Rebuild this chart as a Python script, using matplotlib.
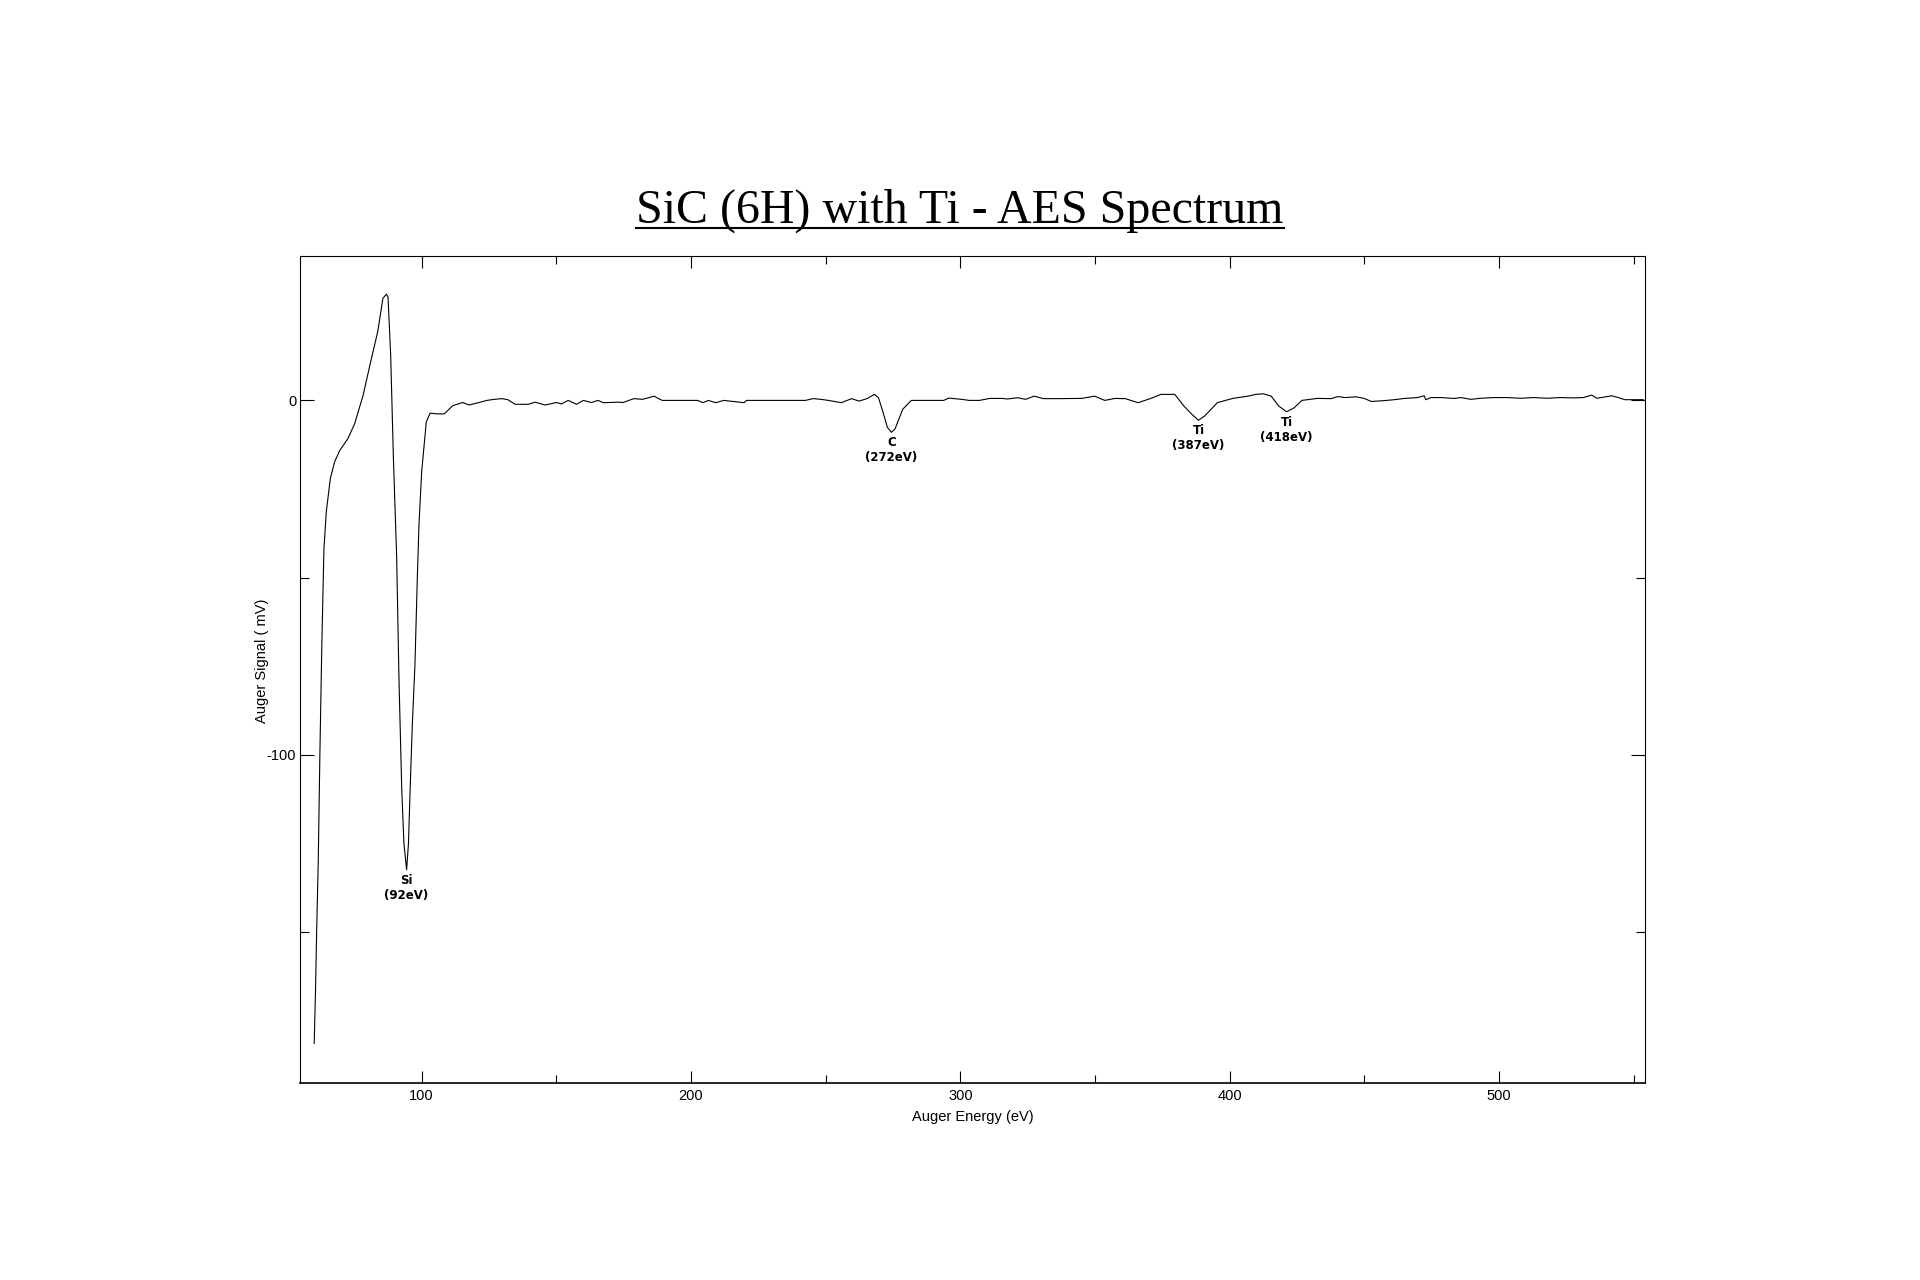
import matplotlib
matplotlib.use("Agg")
import matplotlib.pyplot as plt
from matplotlib.ticker import MultipleLocator
from matplotlib.lines import Line2D
import numpy as np

plt.rcParams["axes.unicode_minus"] = False

# Spectrum (eV, mV)
energy = [60.1, 60.6, 61.0, 61.6, 62.2, 62.9, 63.7, 64.6, 66.1, 67.7,
          69.6, 72.6, 75.1, 78.2, 80.7, 83.7, 85.6, 86.9, 87.5, 88.5,
          89.5, 90.7, 91.6, 92.6, 93.4, 94.4, 95.1, 95.7, 96.5, 97.5,
          98.4, 99.0, 100.0, 101.7, 103.1, 105.5, 108.4, 111.5, 115.2, 117.6,
          121.3, 124.2, 127.0, 129.8, 132.0, 134.7, 139.6, 142.1, 145.8, 150.1,
          151.9, 154.4, 157.5, 160.0, 163.0, 165.5, 167.4, 173.1, 174.7, 178.8,
          182.0, 186.4, 187.2, 189.3, 202.4, 204.5, 206.4, 209.2, 212.1, 219.7,
          220.6, 242.5, 245.3, 248.2, 251.0, 255.8, 259.6, 262.4, 265.3, 268.1,
          269.6, 271.3, 272.9, 274.4, 275.7, 278.6, 281.8, 293.8, 295.7, 300.4,
          303.3, 307.1, 310.9, 315.6, 317.5, 321.3, 324.2, 327.4, 330.8, 336.5,
          345.1, 349.8, 353.6, 357.4, 361.2, 366.0, 370.7, 374.5, 379.6, 383.0,
          385.9, 388.4, 390.7, 395.4, 401.1, 406.8, 409.7, 412.5, 415.4, 418.2,
          421.1, 423.9, 426.8, 432.5, 437.7, 440.2, 442.6, 447.0, 450.0, 452.5,
          456.8, 461.1, 464.8, 469.7, 472.2, 472.8, 474.7, 478.4, 483.3, 485.8,
          489.5, 493.2, 498.1, 503.0, 508.0, 512.9, 517.8, 522.7, 527.6, 531.3,
          534.4, 536.3, 541.8, 544.3, 546.7, 553.5]
signal = [-181.5, -166.0, -150.0, -130.0, -100.0, -70.0, -42.0, -31.3, -22.0, -17.3,
          -14.1, -10.8, -6.6, 1.3, 9.7, 19.5, 28.8, 30.0, 29.2, 12.5,
          -16.4, -44.0, -79.7, -109.9, -125.0, -132.5, -125.0, -110.0, -92.0, -74.6,
          -49.5, -35.0, -20.1, -6.1, -3.6, -3.8, -3.8, -1.5, -0.6, -1.3,
          -0.6, 0.0, 0.3, 0.5, 0.2, -1.1, -1.1, -0.5, -1.3, -0.6,
          -1.0, 0.0, -1.1, 0.0, -0.6, 0.0, -0.65, -0.5, -0.6, 0.5,
          0.3, 1.2, 0.8, 0.0, 0.0, -0.65, 0.0, -0.65, 0.0, -0.65,
          0.0, 0.0, 0.5, 0.3, 0.0, -0.65, 0.5, -0.2, 0.5, 1.7,
          0.75, -3.4, -7.6, -9.0, -8.1, -2.5, 0.0, 0.0, 0.65, 0.3,
          0.0, 0.0, 0.56, 0.56, 0.4, 0.75, 0.3, 1.2, 0.5, 0.5,
          0.56, 1.2, 0.0, 0.56, 0.5, -0.65, 0.56, 1.7, 1.7, -1.6,
          -3.9, -5.6, -4.4, -0.65, 0.56, 1.2, 1.7, 1.86, 1.2, -1.6,
          -3.2, -2.1, 0.0, 0.56, 0.5, 1.1, 0.8, 1.0, 0.55, -0.3,
          -0.1, 0.2, 0.55, 0.8, 1.3, 0.2, 0.8, 0.8, 0.55, 0.8,
          0.3, 0.6, 0.8, 0.8, 0.6, 0.8, 0.6, 0.8, 0.7, 0.8,
          1.5, 0.6, 1.3, 0.8, 0.2, 0.2]

# Peak labels
peak_names = ["Si", "C", "Ti", "Ti"]
peak_ev = [92, 272, 387, 418]

sans = ["Liberation Sans", "DejaVu Sans"]

fig = plt.figure(figsize=(19.2, 12.8), dpi=100)
ax = fig.add_axes([0.1565, 0.1539, 0.7003, 0.6462])

e = np.array(energy)
s = np.array(signal)
ax.plot(e, s, color="black", lw=0.8)

ax.set_xlim(55.0, 554.2)
ax.set_ylim(-192.7, 40.8)

ax.xaxis.set_major_locator(MultipleLocator(100))
ax.xaxis.set_minor_locator(MultipleLocator(50))
ax.yaxis.set_major_locator(MultipleLocator(100))
ax.yaxis.set_minor_locator(MultipleLocator(50))
ax.tick_params(which="both", direction="in", top=True, right=True, width=0.8,
               labelsize=10.5)
ax.tick_params(axis="x", which="major", length=8.6, pad=4)
ax.tick_params(axis="x", which="minor", length=5.8)
ax.tick_params(axis="y", which="major", length=10, pad=3)
ax.tick_params(axis="y", which="minor", length=6.5)
for lab in ax.get_xticklabels() + ax.get_yticklabels():
    lab.set_family(sans)

for side in ["left", "right", "top"]:
    ax.spines[side].set_linewidth(0.8)
ax.spines["bottom"].set_linewidth(1.2)

ax.set_xlabel("Auger Energy (eV)", fontsize=10.5, family=sans, labelpad=5)
ax.set_ylabel("Auger Signal ( mV)", fontsize=10.5, family=sans)
ax.yaxis.set_label_coords(-0.0233, 0.51)

# label each peak under its local minimum
for name, ev in zip(peak_names, peak_ev):
    win = (e >= ev - 4) & (e <= ev + 8)
    i = np.argmin(np.where(win, s, np.inf))
    ax.annotate(f"{name}\n({ev}eV)", xy=(e[i], s[i]), xytext=(0, -3),
                textcoords="offset points", ha="center", va="top",
                fontsize=8.5, fontweight="bold", family="DejaVu Sans")

# underlined serif title
title = fig.text(0.5, 0.826, "SiC (6H) with Ti - AES Spectrum", ha="center",
                 va="baseline", fontsize=34.5, family="Liberation Serif")
fig.canvas.draw()
bb = title.get_window_extent().transformed(fig.transFigure.inverted())
uy = 1 - 228 / 1280
fig.add_artist(Line2D([bb.x0, bb.x1], [uy, uy], color="black", lw=1.5,
                      transform=fig.transFigure))

fig.savefig("out.png", dpi=100, facecolor="white")
